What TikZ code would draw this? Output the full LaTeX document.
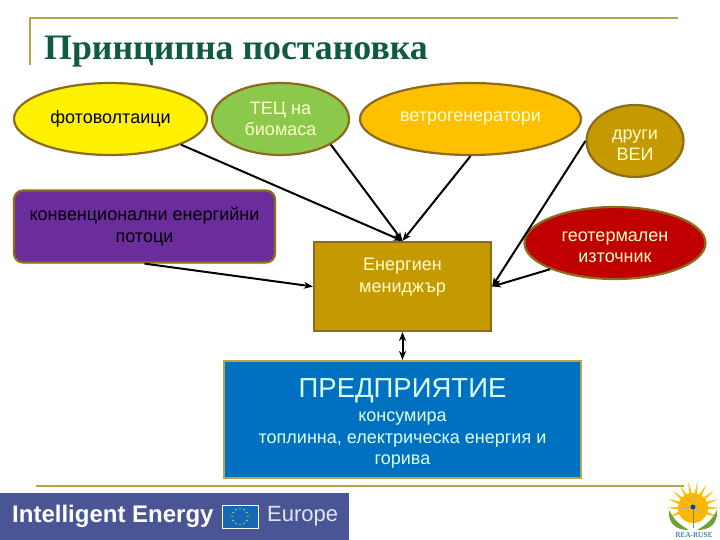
\documentclass[tikz,border=0pt]{standalone}
\usepackage{fontspec}
\setmainfont{Liberation Sans}
\newfontfamily\titlefont{Liberation Serif}
\usetikzlibrary{arrows.meta,shapes.geometric}
\definecolor{framegold}{HTML}{B8A24A}
\definecolor{edgebrown}{HTML}{8C6C1C}
\definecolor{titlegreen}{HTML}{0F5B42}
\definecolor{leafgreen}{HTML}{8CC84B}
\definecolor{amber}{HTML}{FFC000}
\definecolor{darkgold}{HTML}{C49A00}
\definecolor{deepred}{HTML}{C00000}
\definecolor{royalpurple}{HTML}{6B2C9C}
\definecolor{officeblue}{HTML}{0070C0}
\definecolor{paleyellow}{HTML}{FFFFCC}
\definecolor{paleblue}{HTML}{DDFFFF}
\definecolor{bannerblue}{HTML}{4A5596}
\newcommand{\dropline}{\rule{0pt}{19pt}}
\tikzset{
	source/.style={draw=edgebrown, line width=2.2pt, ellipse, inner sep=0pt, align=center, font=\fontsize{18}{21}\selectfont},
	block/.style={draw=edgebrown, line width=2.2pt, rectangle, inner sep=0pt, align=center, font=\fontsize{18}{21.5}\selectfont},
	flow/.style={-{Stealth[length=9pt,width=7pt]}, line width=2pt, black},
	rulegold/.style={framegold, line width=2.2pt}
}

\begin{document}
\begin{tikzpicture}[x=1pt, y=-1pt]
	\useasboundingbox (0,0) rectangle (720,540);
	\fill[white] (0,0) rectangle (720,540);
	% frame and title
	\draw[rulegold] (30,65) -- (30,18) -- (678,18);
	\draw[rulegold] (36,486) -- (684,486);
	\node[anchor=west, inner sep=0pt, titlegreen, font=\titlefont\bfseries\fontsize{35.8}{38}\selectfont] (title) at (44,52) {Принципна постановка};
	% energy sources
	\node[source, fill=yellow, minimum width=193pt, minimum height=72pt] (photo) at (110.5,119) {фотоволтаици};
	\node[source, fill=leafgreen, text=paleyellow, minimum width=137pt, minimum height=72pt] (biomass) at (280.5,119) {ТЕЦ на\\биомаса};
	\node[source, fill=amber, text=paleyellow, minimum width=221pt, minimum height=72pt] (wind) at (470.5,119) {ветрогенератори};
	\node[source, fill=darkgold, text=paleyellow, minimum width=97pt, minimum height=72pt] (other) at (635,141) {\dropline други\\ВЕИ};
	\node[source, fill=deepred, text=paleyellow, minimum width=181pt, minimum height=72pt] (geo) at (615,243) {\dropline геотермален\\източник};
	\node[block, fill=royalpurple, rounded corners=9pt, minimum width=261pt, minimum height=72pt] (flows) at (144.5,226.5) {конвенционални енергийни\\потоци};
	% manager and consumer
	\node[block, fill=darkgold, text=paleyellow, minimum width=177pt, minimum height=89pt] (manager) at (402.5,286.5) {Енергиен\\мениджър\\[1pt]};
	\node[block, draw=framegold, fill=officeblue, text=paleblue, minimum width=357pt, minimum height=117pt] (plant) at (402.5,419.5) {{\fontsize{27.5}{30}\selectfont\rule{0pt}{27pt}ПРЕДПРИЯТИЕ}\\[3pt]консумира\\топлинна, електрическа енергия и\\горива};
	% connectors
	\draw[flow] (photo.-20) -- (manager.north);
	\draw[flow] (biomass.-27) -- (manager.north);
	\draw[flow] (wind.south) -- (manager.north);
	\draw[flow] (flows.south) -- (manager.west);
	\draw[flow] (other.west) -- (manager.east);
	\draw[flow] (geo.202) -- (manager.east);
	\draw[{Stealth[length=9pt,width=7pt]}-{Stealth[length=9pt,width=7pt]}, line width=2pt] (manager.south) -- (plant.north);
	% banner
	\fill[bannerblue] (0,493) rectangle (349,540);
	\node[anchor=west, white, inner sep=0pt, font=\bfseries\fontsize{24}{28}\selectfont] (programme) at (12,516) {Intelligent Energy};
	\node[draw=white, line width=0.5pt, fill=officeblue!70!bannerblue, minimum width=36pt, minimum height=23pt, inner sep=0pt] (flag) at (240,516.5) {};
	\foreach \k in {0,30,...,330}
		\fill[yellow!70!white] (flag.center) ++(\k:8pt) circle (0.7pt);
	\node[anchor=west, white!85!bannerblue, inner sep=0pt, font=\fontsize{22}{26}\selectfont] (europe) at (267,516) {Europe};
	% sun emblem
	\begin{scope}[shift={(693,508)}]
		\foreach \k in {-20,0,...,200}
			\fill[amber] (\k-8:12pt) -- (\k:27pt) -- (\k+8:12pt) -- cycle;
		\fill[amber!85!orange] (0,0) circle (15pt);
	\end{scope}
	\fill[leafgreen!80!black] (669,510) .. controls (668,524) and (676,530) .. (689,530) .. controls (680,525) and (674,520) .. cycle;
	\fill[leafgreen!80!black] (717,510) .. controls (718,524) and (710,530) .. (697,530) .. controls (706,525) and (712,520) .. cycle;
	\draw[gray, line width=1pt] (693,507) -- (693,528);
	\draw[gray!60, line width=1pt] (693,507) -- (680,509) (693,507) -- (695,497) (693,507) -- (703,513);
	\fill[officeblue!70!black] (693,507) circle (2.5pt);
	\node[inner sep=0pt, text=officeblue!70!black, font=\titlefont\fontsize{7.5}{8}\selectfont] (emblem) at (694,535) {REA-RUSE};
\end{tikzpicture}
\end{document}
